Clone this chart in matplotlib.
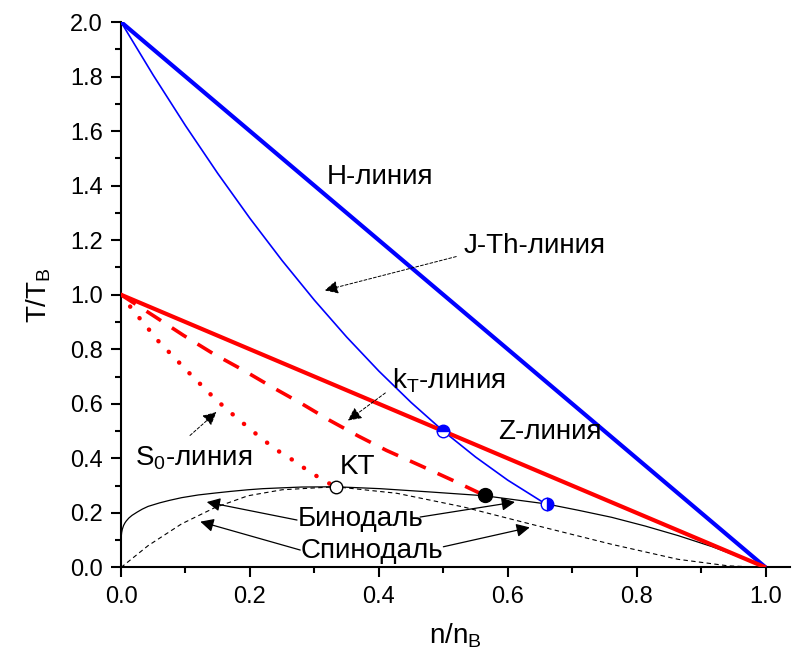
import matplotlib.pyplot as plt
from matplotlib.ticker import FormatStrFormatter

plt.rcParams['font.family'] = 'Liberation Sans'
plt.rcParams['mathtext.fontset'] = 'custom'
plt.rcParams['mathtext.rm'] = 'Liberation Sans'
plt.rcParams['mathtext.it'] = 'Liberation Sans:italic'

# ── curves (n/n_B, T/T_B) ─────────────────────────────────────────────────────
h_n = [0.0, 1.0]
h_t = [2.0, 0.0]

z_n = [0.0, 1.0]
z_t = [1.0, 0.0]

jt_n = [0.0, 0.05, 0.10, 0.15, 0.20, 0.25, 0.30, 0.35, 0.40, 0.45, 0.50, 0.55, 0.60, 0.66]
jt_t = [2.0, 1.805, 1.62, 1.445, 1.28, 1.125, 0.98, 0.845, 0.72, 0.605, 0.50, 0.405, 0.32, 0.231]

kt_n = [0.0, 0.053, 0.097, 0.143, 0.190, 0.234, 0.280, 0.324, 0.368, 0.412, 0.464, 0.515, 0.564]
kt_t = [1.0, 0.919, 0.851, 0.784, 0.723, 0.662, 0.601, 0.539, 0.482, 0.429, 0.374, 0.319, 0.264]

s0_n = [0.0, 0.020, 0.040, 0.059, 0.081, 0.102, 0.124, 0.146, 0.169, 0.192, 0.216,
        0.240, 0.267, 0.293, 0.319, 0.333]
s0_t = [1.0, 0.939, 0.882, 0.827, 0.774, 0.722, 0.670, 0.618, 0.570, 0.524, 0.477,
        0.433, 0.393, 0.350, 0.313, 0.296]

bin_n = [0.0, 0.001, 0.002, 0.004, 0.006, 0.008, 0.012, 0.017, 0.025, 0.033, 0.042,
         0.060, 0.075, 0.094, 0.120, 0.146, 0.170, 0.197, 0.220, 0.249, 0.280, 0.333,
         0.402, 0.479, 0.564, 0.660, 0.709, 0.761, 0.813, 0.864, 0.916, 0.960, 1.0]
bin_t = [0.105, 0.128, 0.140, 0.154, 0.163, 0.170, 0.181, 0.191, 0.203, 0.214, 0.224,
         0.237, 0.246, 0.256, 0.266, 0.273, 0.279, 0.285, 0.289, 0.292, 0.295, 0.296,
         0.289, 0.277, 0.263, 0.233, 0.210, 0.184, 0.152, 0.117, 0.077, 0.038, 0.0]

spin_n = [0.0, 0.042, 0.094, 0.146, 0.197, 0.250, 0.333, 0.428, 0.531, 0.634, 0.761, 0.864, 0.942, 1.0]
spin_t = [0.0, 0.080, 0.160, 0.220, 0.263, 0.285, 0.296, 0.272, 0.222, 0.160, 0.085, 0.030, 0.006, 0.0]

# special points
crit = (1 / 3, 0.296)        # KT
z_jt = (0.50, 0.50)          # Z / J-Th crossing
jt_end = (0.66, 0.233)       # J-Th end on binodal
kt_end = (0.564, 0.264)      # k_T end on binodal

fig = plt.figure(figsize=(7.94, 6.55), dpi=100)
ax = fig.add_axes([0.1524, 0.1336, 0.8426, 0.8328])

ax.plot(h_n, h_t, color='#0000ff', lw=3.0, solid_capstyle='butt', zorder=3)
ax.plot(jt_n, jt_t, color='#0000ff', lw=1.2, zorder=3)
ax.plot(z_n, z_t, color='#ff0000', lw=3.0, solid_capstyle='butt', zorder=3)
ax.plot(kt_n, kt_t, color='#ff0000', lw=2.6, dashes=(4.8, 3.6), zorder=3)
ax.plot(s0_n, s0_t, color='#ff0000', lw=3.2, dashes=(0.05, 3.3),
        dash_capstyle='round', zorder=3)
ax.plot(bin_n, bin_t, color='black', lw=0.9, zorder=2)
ax.plot(spin_n, spin_t, color='black', lw=0.8, dashes=(4, 3), zorder=2)

ax.plot(*crit, 'o', ms=9, mfc='white', mec='black', mew=1.0, zorder=5)
ax.plot(*kt_end, 'o', ms=10, mfc='black', mec='black', zorder=5)
ax.plot(*z_jt, 'o', ms=9, color='#0000ff', fillstyle='top',
        markerfacecoloralt='white', mec='#0000ff', mew=1.0, zorder=5)
ax.plot(*jt_end, 'o', ms=9, color='#0000ff', fillstyle='right',
        markerfacecoloralt='white', mec='#0000ff', mew=1.0, zorder=5)

fs = 20
ax.text(0.402, 1.43, 'H-линия', fontsize=fs, ha='center', va='center')
ax.text(0.665, 0.495, 'Z-линия', fontsize=fs, ha='center', va='center')
ax.text(0.367, 0.37, 'KT', fontsize=fs, ha='center', va='center')

dash_arrow = dict(arrowstyle='-|>', color='black', lw=0.7, linestyle=(0, (3, 2)),
                  mutation_scale=20, shrinkA=0, shrinkB=0)
solid_arrow = dict(arrowstyle='-|>', color='black', lw=0.9,
                   mutation_scale=20, shrinkA=0, shrinkB=0)

ax.text(0.641, 1.18, 'J-Th-линия', fontsize=fs, ha='center', va='center')
ax.annotate('', xy=(0.316, 1.016), xytext=(0.52, 1.14), arrowprops=dash_arrow)

ax.text(0.509, 0.686, r'k$_{\rm T}$-линия', fontsize=fs, ha='center', va='center')
ax.annotate('', xy=(0.352, 0.539), xytext=(0.41, 0.64), arrowprops=dash_arrow)

ax.text(0.112, 0.40, r'S$_0$-линия', fontsize=fs, ha='center', va='center')
ax.annotate('', xy=(0.148, 0.570), xytext=(0.107, 0.484), arrowprops=dash_arrow)

ax.text(0.371, 0.176, 'Бинодаль', fontsize=fs, ha='center', va='center')
ax.annotate('', xy=(0.133, 0.240), xytext=(0.273, 0.174), arrowprops=solid_arrow)
ax.annotate('', xy=(0.611, 0.240), xytext=(0.464, 0.185), arrowprops=solid_arrow)

ax.text(0.389, 0.062, 'Спинодаль', fontsize=fs, ha='center', va='center')
ax.annotate('', xy=(0.123, 0.168), xytext=(0.278, 0.064), arrowprops=solid_arrow)
ax.annotate('', xy=(0.634, 0.147), xytext=(0.50, 0.076), arrowprops=solid_arrow)

# ── axes ──────────────────────────────────────────────────────────────────────
ax.set_xlim(0, 1.0377)
ax.set_ylim(0, 2.0)
ax.set_xticks([0.0, 0.2, 0.4, 0.6, 0.8, 1.0])
ax.set_xticks([0.1, 0.3, 0.5, 0.7, 0.9], minor=True)
ax.set_yticks([i * 0.2 for i in range(11)])
ax.set_yticks([0.1 + i * 0.2 for i in range(10)], minor=True)
ax.xaxis.set_major_formatter(FormatStrFormatter('%.1f'))
ax.yaxis.set_major_formatter(FormatStrFormatter('%.1f'))

for side in ('top', 'right'):
    ax.spines[side].set_visible(False)
for side in ('left', 'bottom'):
    ax.spines[side].set_linewidth(1.5)
ax.tick_params(which='major', direction='out', length=7, width=1.5,
               labelsize=17, pad=6)
ax.tick_params(which='minor', direction='out', length=4, width=1.5)

ax.set_xlabel('n/n$_{\\rm B}$', fontsize=20, labelpad=10)
ax.set_ylabel('T/T$_{\\rm B}$', fontsize=20, labelpad=12)

fig.savefig('out.png', dpi=100)
